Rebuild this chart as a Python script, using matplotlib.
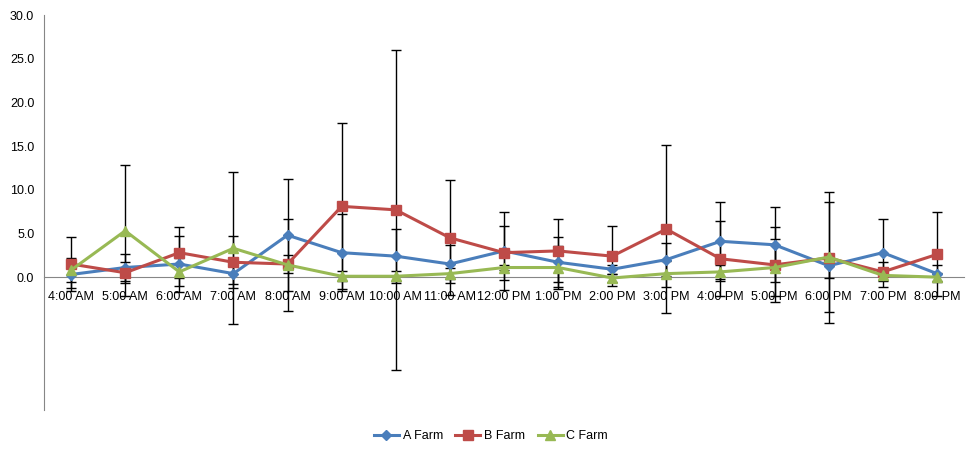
import matplotlib
matplotlib.use("Agg")
import matplotlib.pyplot as plt
import numpy as np

categories = ["4:00 AM", "5:00 AM", "6:00 AM", "7:00 AM", "8:00 AM", "9:00 AM",
              "10:00 AM", "11:00 AM", "12:00 PM", "1:00 PM", "2:00 PM", "3:00 PM",
              "4:00 PM", "5:00 PM", "6:00 PM", "7:00 PM", "8:00 PM"]

a_farm = [0.3, 1.1, 1.5, 0.4, 4.8, 2.8, 2.4, 1.5, 3.0, 1.7, 0.9, 2.0, 4.1, 3.7, 1.3, 2.8, 0.4]
b_farm = [1.5, 0.5, 2.8, 1.7, 1.5, 8.1, 7.7, 4.5, 2.8, 3.0, 2.4, 5.5, 2.1, 1.4, 2.2, 0.6, 2.6]
c_farm = [0.8, 5.3, 0.6, 3.3, 1.4, 0.1, 0.1, 0.4, 1.1, 1.1, -0.1, 0.4, 0.6, 1.1, 2.3, 0.2, 0.0]

a_err = [1.6, 1.6, 3.2, 1.2, 6.4, 4.4, 3.1, 2.2, 4.5, 2.85, 0.5, 1.9, 4.5, 4.3, 1.4, 3.9, 1.0]
b_err = [3.05, 1.2, 2.9, 3.0, 1.0, 9.5, 18.3, 6.6, 3.1, 3.6, 3.4, 9.6, 4.3, 4.3, 7.5, 1.1, 4.8]
c_err = [1.4, 7.5, 1.6, 8.7, 5.3, 0.55, 0.55, 0.6, 0.3, 2.5, 0.5, 1.5, 0.8, 3.3, 6.3, 0.5, 0.5]

series = [
    ("A Farm", a_farm, a_err, "#4A7EBB", "D", 5.0),
    ("B Farm", b_farm, b_err, "#BE4B48", "s", 6.5),
    ("C Farm", c_farm, c_err, "#98B954", "^", 6.5),
]

plt.rcParams['font.family'] = ['Liberation Sans', 'DejaVu Sans']

fig = plt.figure(figsize=(9.8, 4.57), dpi=100)
ax = fig.add_axes([44 / 980, 1 - 409.5 / 457, (964 - 44) / 980, (409.5 - 15) / 457])

x = np.arange(len(categories))
for name, vals, errs, col, mk, ms in series:
    ax.errorbar(x, vals, yerr=errs, fmt='none', ecolor='black', elinewidth=1.0,
                capsize=3.5, capthick=1.0, zorder=2)
for name, vals, errs, col, mk, ms in series:
    ax.plot(x, vals, color=col, lw=2.2, marker=mk, markersize=ms,
            markerfacecolor=col, markeredgecolor=col, label=name, zorder=3)

ax.set_xlim(-0.5, len(categories) - 0.5)
ax.set_ylim(-15.15, 30)
ax.set_yticks([0, 5, 10, 15, 20, 25, 30])
ax.set_yticklabels([f"{v:.1f}" for v in [0, 5, 10, 15, 20, 25, 30]])
ax.set_xticks(x)
ax.set_xticklabels(categories)

for s in ['top', 'right']:
    ax.spines[s].set_visible(False)
ax.spines['left'].set_color('#868686')
ax.spines['bottom'].set_color('#868686')
ax.spines['bottom'].set_position(('data', 0))
ax.spines['bottom'].set_zorder(1)
ax.tick_params(axis='both', length=0, labelsize=9, colors='black')
ax.tick_params(axis='x', pad=10)
ax.tick_params(axis='y', pad=7)

fig.legend(loc='center', bbox_to_anchor=(491 / 980, 1 - 436 / 457), ncol=3,
           frameon=False, fontsize=9, handlelength=2.0, columnspacing=1.0,
           handletextpad=0.3)

fig.savefig("out.png", dpi=100)
